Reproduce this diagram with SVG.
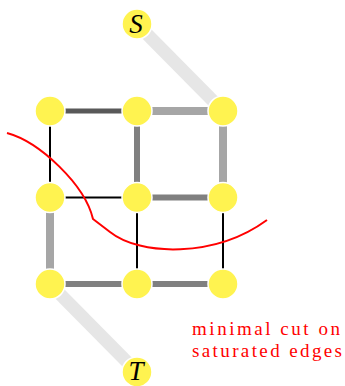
<svg xmlns="http://www.w3.org/2000/svg" width="345" height="386" viewBox="0 0 345 386">
  <style>
    .casing { stroke: #ffffff; fill: none; stroke-linecap: butt; }
    .edge { fill: none; stroke-linecap: butt; }
    .cap { stroke: #e6e6e6; stroke-width: 13; }
    .heavy { stroke: #a6a6a6; stroke-width: 8; }
    .mid { stroke: #808080; stroke-width: 6; }
    .dark { stroke: #595959; stroke-width: 5; }
    .zero { stroke: #000000; stroke-width: 2; }
    .node circle { fill: #fff350; stroke: #ffffff; stroke-width: 1.5; }
    .term { font-family: "Liberation Serif", "DejaVu Serif", serif; font-style: italic; font-size: 27px; fill: #000000; text-anchor: middle; }
    .note { font-family: "Liberation Serif", "DejaVu Serif", serif; font-size: 19px; fill: #ff0000; }
    .cut { fill: none; stroke: #ff0000; stroke-width: 2; stroke-linejoin: round; }
  </style>

  <g id="connectors">
    <!-- white casings under each edge -->
    <g class="casing">
      <line x1="137" y1="24" x2="223" y2="111" stroke-width="15"/>
      <line x1="50" y1="111" x2="137" y2="111" stroke-width="7"/>
      <line x1="137" y1="111" x2="223" y2="111" stroke-width="10"/>
      <line x1="137" y1="111" x2="137" y2="197.5" stroke-width="8"/>
      <line x1="223" y1="111" x2="223" y2="197.5" stroke-width="10"/>
      <line x1="137" y1="197.5" x2="223" y2="197.5" stroke-width="8"/>
      <line x1="50" y1="197.5" x2="50" y2="284" stroke-width="10"/>
      <line x1="50" y1="284" x2="137" y2="284" stroke-width="8"/>
      <line x1="137" y1="284" x2="223" y2="284" stroke-width="8"/>
      <line x1="50" y1="284" x2="137" y2="372" stroke-width="15"/>
    </g>
    <line class="edge cap" x1="137" y1="24" x2="223" y2="111"/>
    <line class="edge dark" x1="50" y1="111" x2="137" y2="111"/>
    <line class="edge heavy" x1="137" y1="111" x2="223" y2="111"/>
    <line class="edge zero" x1="50" y1="111" x2="50" y2="197.5"/>
    <line class="edge mid" x1="137" y1="111" x2="137" y2="197.5"/>
    <line class="edge heavy" x1="223" y1="111" x2="223" y2="197.5"/>
    <line class="edge zero" x1="50" y1="197.5" x2="137" y2="197.5"/>
    <line class="edge mid" x1="137" y1="197.5" x2="223" y2="197.5"/>
    <line class="edge heavy" x1="50" y1="197.5" x2="50" y2="284"/>
    <line class="edge zero" x1="137" y1="197.5" x2="137" y2="284"/>
    <line class="edge zero" x1="223" y1="197.5" x2="223" y2="284"/>
    <line class="edge mid" x1="50" y1="284" x2="137" y2="284"/>
    <line class="edge mid" x1="137" y1="284" x2="223" y2="284"/>
    <line class="edge cap" x1="50" y1="284" x2="137" y2="372"/>
  </g>

  <g id="source" class="node"><circle cx="137" cy="24" r="15"/><text class="term" x="136" y="33">S</text></g>
  <g id="sink" class="node"><circle cx="137" cy="372" r="15"/><text class="term" x="136" y="380">T</text></g>
  <g id="n11" class="node"><circle cx="50" cy="111" r="15"/></g>
  <g id="n12" class="node"><circle cx="137" cy="111" r="15"/></g>
  <g id="n13" class="node"><circle cx="223" cy="111" r="15"/></g>
  <g id="n21" class="node"><circle cx="50" cy="197.5" r="15"/></g>
  <g id="n22" class="node"><circle cx="137" cy="197.5" r="15"/></g>
  <g id="n23" class="node"><circle cx="223" cy="197.5" r="15"/></g>
  <g id="n31" class="node"><circle cx="50" cy="284" r="15"/></g>
  <g id="n32" class="node"><circle cx="137" cy="284" r="15"/></g>
  <g id="n33" class="node"><circle cx="223" cy="284" r="15"/></g>

  <!-- the cut line through the saturated edges -->
  <path id="cut" class="cut" d="M7,133 C40,142 85,185 93,219 L110,232 C140,256 215,258 267,220"/>

  <g id="cut-label">
    <text class="note" x="192" y="335" textLength="148" lengthAdjust="spacing">minimal cut on</text>
    <text class="note" x="192" y="357" textLength="150" lengthAdjust="spacing">saturated edges</text>
  </g>
</svg>
